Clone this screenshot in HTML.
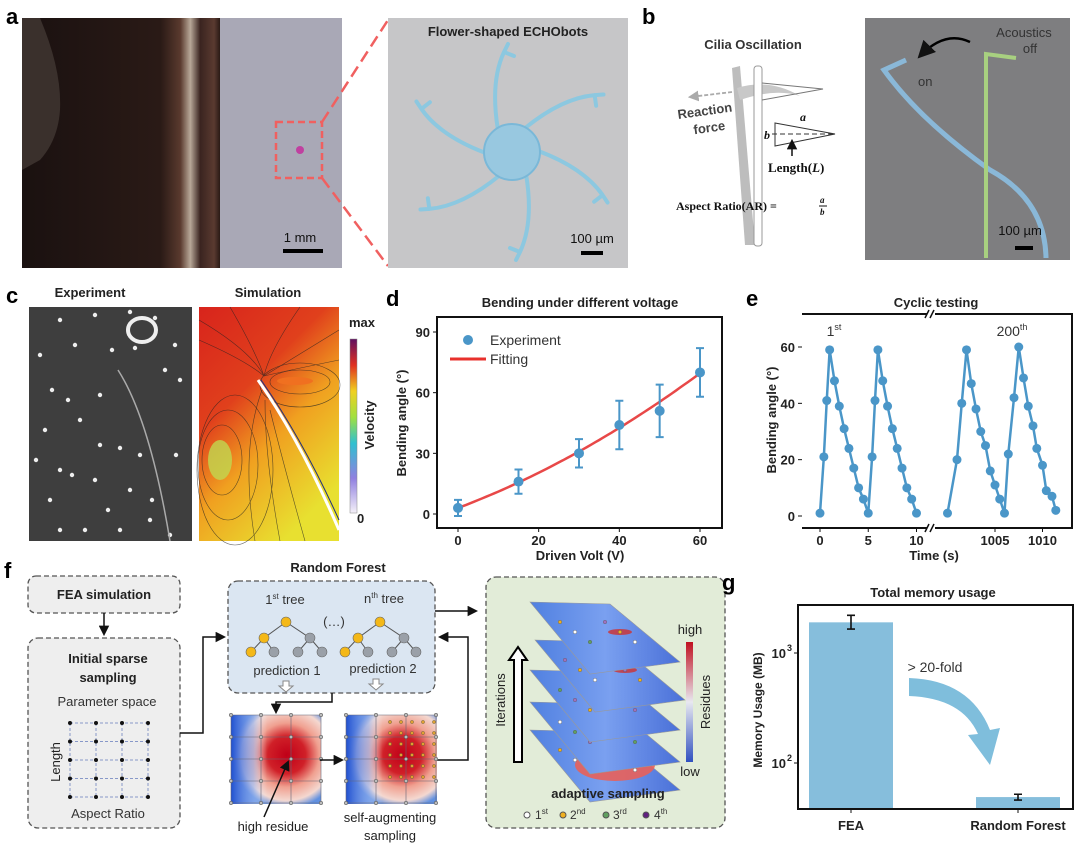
<!DOCTYPE html>
<html><head><meta charset="utf-8">
<style>
html,body{margin:0;padding:0;background:#fff;}
svg{display:block;font-family:"Liberation Sans",Arial,sans-serif;}
.lbl{font-weight:bold;font-size:22px;fill:#000;}
.ttl{font-weight:bold;font-size:13px;fill:#222;}
.tk{font-weight:bold;font-size:13px;fill:#222;}
.ax{font-weight:bold;font-size:13px;fill:#222;}
</style></head>
<body>
<svg id="fig" width="1080" height="847" viewBox="0 0 1080 847" xmlns="http://www.w3.org/2000/svg">
<defs>
<linearGradient id="coin" x1="0" x2="1" y1="0" y2="0">
<stop offset="0" stop-color="#1a1110"/><stop offset="0.7" stop-color="#2a1a16"/><stop offset="0.8" stop-color="#5a3a2e"/><stop offset="0.85" stop-color="#b8a898"/><stop offset="0.9" stop-color="#3a2420"/><stop offset="0.97" stop-color="#5a3a30"/><stop offset="1" stop-color="#2a1a16"/>
</linearGradient>
<linearGradient id="simg" x1="0" y1="0" x2="0.6" y2="1">
<stop offset="0" stop-color="#d8241c"/><stop offset="0.4" stop-color="#e0401c"/><stop offset="0.65" stop-color="#f0a020"/><stop offset="1" stop-color="#e8e030"/>
</linearGradient>
<linearGradient id="velbar" x1="0" y1="1" x2="0" y2="0">
<stop offset="0" stop-color="#f4f0f8"/><stop offset="0.2" stop-color="#9080e0"/><stop offset="0.4" stop-color="#30c0d0"/><stop offset="0.55" stop-color="#a0e040"/><stop offset="0.7" stop-color="#f0d020"/><stop offset="0.85" stop-color="#e03020"/><stop offset="1" stop-color="#601060"/>
</linearGradient>
<linearGradient id="resbar" x1="0" y1="1" x2="0" y2="0">
<stop offset="0" stop-color="#3050c0"/><stop offset="0.5" stop-color="#e8e8f0"/><stop offset="1" stop-color="#c01020"/>
</linearGradient>
<radialGradient id="heat1" cx="0.62" cy="0.45" r="0.6">
<stop offset="0" stop-color="#c00018"/><stop offset="0.35" stop-color="#d02028"/><stop offset="0.6" stop-color="#f0a090"/><stop offset="0.85" stop-color="#f4d8d0"/><stop offset="1" stop-color="#6090e0"/>
</radialGradient>
<linearGradient id="heatL" x1="0" x2="1"><stop offset="0" stop-color="#2050d0"/><stop offset="0.25" stop-color="#90b0f0" stop-opacity="0.6"/><stop offset="0.4" stop-color="#fff" stop-opacity="0"/></linearGradient>
<linearGradient id="layer" x1="0" x2="1"><stop offset="0" stop-color="#5080e0"/><stop offset="0.5" stop-color="#7aa0f0"/><stop offset="1" stop-color="#4a70d8"/></linearGradient>
<marker id="arr" viewBox="0 0 10 10" refX="8" refY="5" markerWidth="7" markerHeight="7" orient="auto"><path d="M0,0 L10,5 L0,10 z" fill="#111"/></marker>
<marker id="arrg" viewBox="0 0 10 10" refX="8" refY="5" markerWidth="6" markerHeight="6" orient="auto"><path d="M0,0 L10,5 L0,10 z" fill="#aaa"/></marker>
</defs>

<!-- Panel a -->
<g>
<text class="lbl" x="6" y="24">a</text>
<rect x="22" y="18" width="320" height="250" fill="#a9a8b6"/>
<rect x="22" y="18" width="198" height="250" fill="url(#coin)"/>
<path d="M22,18 L40,18 Q62,70 60,110 Q58,140 40,160 L22,170 Z" fill="#3a302c"/>
<rect x="276" y="122" width="46" height="56" fill="none" stroke="#f06060" stroke-width="2.5" stroke-dasharray="7,4"/>
<circle cx="300" cy="150" r="4" fill="#c040a0"/>
<text x="300" y="242" font-size="13" text-anchor="middle" fill="#111">1 mm</text>
<rect x="283" y="249" width="40" height="4" fill="#000"/>
<line x1="322" y1="122" x2="388" y2="20" stroke="#f06060" stroke-width="2.5" stroke-dasharray="12,6"/>
<line x1="322" y1="178" x2="388" y2="266" stroke="#f06060" stroke-width="2.5" stroke-dasharray="12,6"/>
<rect x="388" y="18" width="240" height="250" fill="#c6c6c8"/>
<text x="508" y="36" font-size="13" font-weight="bold" text-anchor="middle" fill="#222">Flower-shaped ECHObots</text>
<g transform="translate(512,152)" fill="none" stroke="#8cc8e0" stroke-width="4" stroke-linecap="round">
<path d="M-14,-22 Q-22,-70 -8,-100 L-4,-108 M-8,-100 L2,-96"/>
<path transform="rotate(60)" d="M-14,-22 Q-22,-70 -8,-100 L-4,-108 M-8,-100 L2,-96"/>
<path transform="rotate(120)" d="M-14,-22 Q-22,-70 -8,-100 L-4,-108 M-8,-100 L2,-96"/>
<path transform="rotate(180)" d="M-14,-22 Q-22,-70 -8,-100 L-4,-108 M-8,-100 L2,-96"/>
<path transform="rotate(240)" d="M-14,-22 Q-22,-70 -8,-100 L-4,-108 M-8,-100 L2,-96"/>
<path transform="rotate(300)" d="M-14,-22 Q-22,-70 -8,-100 L-4,-108 M-8,-100 L2,-96"/>
<circle r="28" fill="#98c8e0" stroke="#7ab8d8" stroke-width="2"/>
</g>
<text x="592" y="243" font-size="13" text-anchor="middle" fill="#111">100 µm</text>
<rect x="581" y="251" width="22" height="4" fill="#000"/>
</g>

<!-- Panel b -->
<g>
<text class="lbl" x="642" y="24">b</text>
<text x="753" y="49" font-size="13" font-weight="bold" text-anchor="middle" fill="#333">Cilia Oscillation</text>
<path d="M732,68 L740,66 L755,245 L745,245 Z" fill="#bdbdbd"/>
<path d="M737,88 Q770,78 800,96 Q775,88 740,100 Z" fill="#c8c8c8"/>
<rect x="754" y="66" width="8" height="180" rx="3" fill="#fff" stroke="#999"/>
<path d="M762,83 L823,89 L762,100" fill="none" stroke="#777"/>
<line x1="732" y1="92" x2="690" y2="97" stroke="#aaa" stroke-width="1.8" stroke-dasharray="4,2" marker-end="url(#arrg)"/>
<text x="678" y="116" font-size="13" font-weight="bold" fill="#444" transform="rotate(-8 700 116)">Reaction</text>
<text x="694" y="132" font-size="13" font-weight="bold" fill="#444" transform="rotate(-8 710 132)">force</text>
<path d="M775,123 L835,134 L775,146 Z" fill="none" stroke="#333"/>
<line x1="772" y1="134" x2="835" y2="134" stroke="#333" stroke-dasharray="5,3"/>
<text x="800" y="121" font-size="12" font-style="italic" font-weight="bold" font-family="Liberation Serif,serif" fill="#111">a</text>
<text x="764" y="139" font-size="12" font-style="italic" font-weight="bold" font-family="Liberation Serif,serif" fill="#111">b</text>
<line x1="792" y1="156" x2="792" y2="141" stroke="#111" stroke-width="1.5" marker-end="url(#arr)"/>
<text x="768" y="172" font-size="13" font-weight="bold" font-family="Liberation Serif,serif" fill="#111">Length(<tspan font-style="italic">L</tspan>)</text>
<text x="676" y="210" font-size="12" font-weight="bold" font-family="Liberation Serif,serif" fill="#111">Aspect Ratio(AR) =</text>
<text x="820" y="203" font-size="9" font-style="italic" font-weight="bold" font-family="Liberation Serif,serif" fill="#111">a</text>
<line x1="819" y1="206" x2="827" y2="206" stroke="#111"/>
<text x="820" y="215" font-size="9" font-style="italic" font-weight="bold" font-family="Liberation Serif,serif" fill="#111">b</text>
<rect x="865" y="18" width="205" height="242" fill="#7e7e80"/>
<path d="M1046,258 Q1045,200 990,170 Q920,120 884,70 L906,60" fill="none" stroke="#8ab8d8" stroke-width="5"/>
<path d="M986,258 L986,54 L1016,58" fill="none" stroke="#a8d080" stroke-width="4"/>
<path d="M970,42 Q945,30 920,56" fill="none" stroke="#000" stroke-width="2.5" marker-end="url(#arr)"/>
<text x="1024" y="37" font-size="13" text-anchor="middle" fill="#333">Acoustics</text>
<text x="1030" y="53" font-size="13" text-anchor="middle" fill="#333">off</text>
<text x="918" y="86" font-size="13" fill="#333">on</text>
<text x="1020" y="235" font-size="13" text-anchor="middle" fill="#111">100 µm</text>
<rect x="1015" y="246" width="18" height="4" fill="#000"/>
</g>

<!-- Panel c -->
<g>
<text class="lbl" x="6" y="303">c</text>
<text x="90" y="297" font-size="13" font-weight="bold" text-anchor="middle" fill="#222">Experiment</text>
<text x="268" y="297" font-size="13" font-weight="bold" text-anchor="middle" fill="#222">Simulation</text>
<rect x="29" y="307" width="163" height="234" fill="#3e3e3e"/>
<g id="dots" fill="#eee"></g>
<path d="M118,370 Q150,420 170,541" fill="none" stroke="#aaa" stroke-width="1.5"/>
<ellipse cx="142" cy="330" rx="14" ry="12" fill="none" stroke="#eee" stroke-width="4"/>
<rect x="199" y="307" width="140" height="234" fill="url(#simg)"/>
<ellipse cx="220" cy="460" rx="12" ry="20" fill="#c0d850" opacity="0.8"/>
<ellipse cx="295" cy="381" rx="18" ry="4" fill="#f07020"/>
<g fill="none" stroke="#222" stroke-width="0.6" opacity="0.7">
<path d="M199,320 Q250,350 264,376"/><path d="M199,340 Q245,360 264,376"/><path d="M230,307 Q255,350 264,376"/>
<path d="M300,307 Q270,350 264,376"/><path d="M339,330 Q290,360 264,376"/><path d="M339,360 Q290,370 264,376"/>
<ellipse cx="300" cy="382" rx="30" ry="12"/><ellipse cx="300" cy="385" rx="40" ry="22"/>
<ellipse cx="222" cy="460" rx="20" ry="35"/><ellipse cx="228" cy="465" rx="30" ry="55"/><ellipse cx="235" cy="470" rx="38" ry="75"/>
<path d="M255,541 Q240,450 262,390"/><path d="M280,541 Q265,460 265,400"/><path d="M305,541 Q285,470 270,410"/>
</g>
<path d="M258,380 Q300,440 339,530" fill="none" stroke="#fff" stroke-width="3"/>
<path d="M261,380 Q303,440 339,520" fill="none" stroke="#203080" stroke-width="1"/>
<rect x="350" y="339" width="7" height="174" fill="url(#velbar)" stroke="#888" stroke-width="0.5"/>
<text x="349" y="327" font-size="13" font-weight="bold" fill="#222">max</text>
<text x="357" y="523" font-size="13" font-weight="bold" fill="#222">0</text>
<text font-size="13" font-weight="bold" fill="#222" text-anchor="middle" transform="translate(374,425) rotate(-90)">Velocity</text>
</g>

<!-- Panel d -->
<g id="pd">
<text class="lbl" x="386" y="306">d</text>
<text class="ttl" x="580" y="307" text-anchor="middle">Bending under different voltage</text>
<rect x="437" y="317" width="285" height="211" fill="none" stroke="#111" stroke-width="2"/>
<text class="ax" x="580" y="560" text-anchor="middle">Driven Volt (V)</text>
<text class="ax" text-anchor="middle" transform="translate(406,423) rotate(-90)">Bending angle (°)</text>
<circle cx="468" cy="340" r="5" fill="#4a96c8"/>
<text x="490" y="345" font-size="14" fill="#333">Experiment</text>
<line x1="450" y1="359" x2="486" y2="359" stroke="#e8302c" stroke-width="3"/>
<text x="490" y="364" font-size="14" fill="#333">Fitting</text>
</g>

<!-- Panel e -->
<g id="pe">
<text class="lbl" x="746" y="306">e</text>
<text class="ttl" x="936" y="307" text-anchor="middle">Cyclic testing</text>
<text class="ax" x="934" y="560" text-anchor="middle">Time (s)</text>
<text class="ax" text-anchor="middle" transform="translate(776,420) rotate(-90)">Bending angle (°)</text>
<text x="834" y="336" font-size="14" fill="#333" text-anchor="middle">1<tspan font-size="9" dy="-6">st</tspan></text>
<text x="1012" y="336" font-size="14" fill="#333" text-anchor="middle">200<tspan font-size="9" dy="-6">th</tspan></text>
</g>

<!-- Panel f -->
<g>
<text class="lbl" x="4" y="578">f</text>
<rect x="28" y="576" width="152" height="37" rx="8" fill="#eeeeee" stroke="#555" stroke-dasharray="5,3" stroke-width="1.3"/>
<text x="104" y="599" font-size="13" font-weight="bold" text-anchor="middle" fill="#222">FEA simulation</text>
<line x1="104" y1="613" x2="104" y2="634" stroke="#111" stroke-width="1.5" marker-end="url(#arr)"/>
<rect x="28" y="638" width="152" height="190" rx="10" fill="#eeeeee" stroke="#555" stroke-dasharray="5,3" stroke-width="1.3"/>
<text x="108" y="663" font-size="13" font-weight="bold" text-anchor="middle" fill="#222">Initial sparse</text>
<text x="108" y="682" font-size="13" font-weight="bold" text-anchor="middle" fill="#222">sampling</text>
<text x="107" y="706" font-size="13" text-anchor="middle" fill="#333">Parameter space</text>
<g id="grid1"></g>
<text font-size="13" text-anchor="middle" fill="#222" transform="translate(60,762) rotate(-90)">Length</text>
<text x="108" y="818" font-size="13" text-anchor="middle" fill="#333">Aspect Ratio</text>
<path d="M180,733 L203,733 L203,637 L224,637" fill="none" stroke="#111" stroke-width="1.5" marker-end="url(#arr)"/>
<text x="338" y="572" font-size="13" font-weight="bold" text-anchor="middle" fill="#222">Random Forest</text>
<rect x="228" y="581" width="207" height="112" rx="10" fill="#dbe6f2" stroke="#555" stroke-dasharray="5,3" stroke-width="1.3"/>
<text x="285" y="604" font-size="13" text-anchor="middle" fill="#333">1<tspan font-size="8" dy="-5">st</tspan><tspan dy="5"> tree</tspan></text>
<text x="384" y="603" font-size="13" text-anchor="middle" fill="#333">n<tspan font-size="8" dy="-5">th</tspan><tspan dy="5"> tree</tspan></text>
<text x="334" y="626" font-size="13" text-anchor="middle" fill="#333">(…)</text>
<g id="trees"></g>
<text x="287" y="675" font-size="13" text-anchor="middle" fill="#333">prediction 1</text>
<text x="383" y="673" font-size="13" text-anchor="middle" fill="#333">prediction 2</text>
<path d="M283,681 h6 v5 h4 l-7,6 l-7,-6 h4 z" fill="#fff" stroke="#888"/>
<path d="M373,679 h6 v5 h4 l-7,6 l-7,-6 h4 z" fill="#fff" stroke="#888"/>
<path d="M332,693 L332,702 L276,702 L276,712" fill="none" stroke="#111" stroke-width="1.5" marker-end="url(#arr)"/>
<line x1="435" y1="611" x2="476" y2="611" stroke="#111" stroke-width="1.5" marker-end="url(#arr)"/>
<path d="M437,760 L468,760 L468,637 L440,637" fill="none" stroke="#111" stroke-width="1.5" marker-end="url(#arr)"/>
<rect x="231" y="715" width="90" height="89" fill="url(#heat1)"/>
<rect x="231" y="715" width="90" height="89" fill="url(#heatL)"/>
<rect x="346" y="715" width="91" height="89" fill="url(#heat1)"/>
<rect x="346" y="715" width="91" height="89" fill="url(#heatL)"/>
<g id="grid2"></g>
<line x1="320" y1="760" x2="342" y2="760" stroke="#111" stroke-width="1.5" marker-end="url(#arr)"/>
<line x1="264" y1="817" x2="288" y2="762" stroke="#111" stroke-width="1.5" marker-end="url(#arr)"/>
<text x="273" y="831" font-size="13" text-anchor="middle" fill="#222">high residue</text>
<text x="390" y="822" font-size="13" text-anchor="middle" fill="#222">self-augmenting</text>
<text x="390" y="840" font-size="13" text-anchor="middle" fill="#222">sampling</text>
<rect x="486" y="577" width="239" height="251" rx="10" fill="#e2ecd8" stroke="#555" stroke-dasharray="5,3" stroke-width="1.3"/>
<g id="layers"></g>
<path d="M514,762 L514,660 L509,660 L518,647 L527,660 L522,660 L522,762 Z" fill="#fff" stroke="#000" stroke-width="2"/>
<text font-size="13" text-anchor="middle" fill="#222" transform="translate(505,700) rotate(-90)">Iterations</text>
<rect x="686" y="642" width="7" height="120" fill="url(#resbar)"/>
<text x="690" y="634" font-size="13" text-anchor="middle" fill="#222">high</text>
<text x="690" y="776" font-size="13" text-anchor="middle" fill="#222">low</text>
<text font-size="13" text-anchor="middle" fill="#222" transform="translate(710,702) rotate(-90)">Residues</text>
<text x="608" y="798" font-size="13" font-weight="bold" text-anchor="middle" fill="#222">adaptive sampling</text>
<g font-size="12" fill="#333">
<circle cx="527" cy="815" r="3" fill="#fff" stroke="#555"/><text x="535" y="819">1<tspan font-size="8" dy="-5">st</tspan></text>
<circle cx="563" cy="815" r="3" fill="#f0b020" stroke="#555"/><text x="570" y="819">2<tspan font-size="8" dy="-5">nd</tspan></text>
<circle cx="606" cy="815" r="3" fill="#60a060" stroke="#555"/><text x="613" y="819">3<tspan font-size="8" dy="-5">rd</tspan></text>
<circle cx="646" cy="815" r="3" fill="#602080" stroke="#555"/><text x="654" y="819">4<tspan font-size="8" dy="-5">th</tspan></text>
</g>
</g>

<!-- Panel g -->
<g id="pg">
<text class="lbl" x="722" y="590">g</text>
<text class="ttl" x="933" y="597" text-anchor="middle">Total memory usage</text>
<text font-size="12" font-weight="bold" fill="#222" text-anchor="middle" transform="translate(762,710) rotate(-90)">Memory Usage (MB)</text>
<text x="935" y="672" font-size="14" fill="#333" text-anchor="middle">&gt; 20-fold</text>
<path d="M909,678 Q970,680 990,730 L1000,728 L990,765 L968,735 L978,734 Q962,698 909,696 Z" fill="#7fbedc"/>
</g>
</svg>

<script>
// ===== Panel d data =====
const dVolts = [0, 15, 30, 40, 50, 60];
const dAngles = [3, 16, 30, 44, 51, 70];
const dErrors = [4, 6, 7, 12, 13, 12];
const dFitCoef = [3, 0.75, 0.006];
const dXTicks = [0, 20, 40, 60];
const dYTicks = [0, 30, 60, 90];

// ===== Panel e data =====
const eTimes = [0,0.4,0.7,1,1.5,2,2.5,3,3.5,4,4.5,5, 5.4,5.7,6,6.5,7,7.5,8,8.5,9,9.5,10];
const eAngles = [1,21,41,59,48,39,31,24,17,10,6,1, 21,41,59,48,39,31,24,17,10,6,1];
const eTimes2 = [1000,1001,1001.5,1002,1002.5,1003,1003.5,1004,1004.5,1005,1005.5,1006, 1006.4,1007,1007.5,1008,1008.5,1009,1009.4,1010,1010.4,1011,1011.4];
const eAngles2 = [1,20,40,59,47,38,30,25,16,11,6,1, 22,42,60,49,39,32,24,18,9,7,2];
const eXTicks = [0, 5, 10, 1005, 1010];
const eYTicks = [0, 20, 40, 60];

// ===== Panel g data =====
const gCategories = ["FEA", "Random Forest"];
const gValues = [1900, 49];
const gErrLow = [1650, 46];
const gErrHigh = [2200, 52];
const gYTicks = [100, 1000];
const gYTickLabels = ["10", "10"];
const gYTickExp = ["2", "3"];

const NS = "http://www.w3.org/2000/svg";
function mk(tag, attrs, parent){ const e=document.createElementNS(NS,tag); for(const k in attrs) e.setAttribute(k,attrs[k]); parent.appendChild(e); return e; }

// Panel d
(function(){
  const g = document.getElementById('pd');
  const x = v => 458 + v*(242/60);
  const y = v => 514 - v*(182/90);
  dXTicks.forEach(t=>{
    const l=mk('line',{x1:x(t),x2:x(t),y1:528,y2:532,stroke:'#111'},g);
    
    
    const tx=mk('text',{x:x(t),y:545,'text-anchor':'middle',class:'tk'},g); tx.textContent=t;
    
    
  });
  dYTicks.forEach(t=>{
    mk('line',{x1:433,x2:437,y1:y(t),y2:y(t),stroke:'#111'},g);
    const tx=mk('text',{x:430,y:y(t)+5,'text-anchor':'end',class:'tk'},g); tx.textContent=t;
    
    
  });
  let d='';
  for(let v=0; v<=60; v+=1){ const a=dFitCoef[0]+dFitCoef[1]*v+dFitCoef[2]*v*v; d+=(v?'L':'M')+x(v).toFixed(1)+','+y(a).toFixed(1); }
  const fit=mk('path',{d:d,fill:'none',stroke:'#e84848','stroke-width':2.5},g);
  
  
  dVolts.forEach((v,i)=>{
    const eb=mk('path',{d:`M${x(v)},${y(dAngles[i]-dErrors[i])}V${y(dAngles[i]+dErrors[i])}M${x(v)-4},${y(dAngles[i]-dErrors[i])}h8M${x(v)-4},${y(dAngles[i]+dErrors[i])}h8`,stroke:'#4a96c8','stroke-width':2,fill:'none'},g);
    
    
    const c=mk('circle',{cx:x(v),cy:y(dAngles[i]),r:5,fill:'#4a96c8'},g);
    
    
  });
})();

// Panel e
(function(){
  const g = document.getElementById('pe');
  const x = t => t<500 ? 820 + t*9.65 : 995 + (t-1005)*9.5;
  const y = v => 516 - v*(169/60);
  mk('path',{d:'M802,314 H927 M935,314 H1072 V528 H935 M927,528 H802 Z',fill:'none',stroke:'#111','stroke-width':2},g);
  mk('path',{d:'M925,318 l4,-8 M930,318 l4,-8 M925,532 l4,-8 M930,532 l4,-8',stroke:'#111','stroke-width':1.5},g);
  eXTicks.forEach(t=>{
    mk('line',{x1:x(t),x2:x(t),y1:528,y2:532,stroke:'#111'},g);
    const tx=mk('text',{x:x(t),y:545,'text-anchor':'middle',class:'tk'},g); tx.textContent=t;
    
    
  });
  eYTicks.forEach(t=>{
    mk('line',{x1:798,x2:802,y1:y(t),y2:y(t),stroke:'#111'},g);
    const tx=mk('text',{x:795,y:y(t)+5,'text-anchor':'end',class:'tk'},g); tx.textContent=t;
    
    
  });
  [[eTimes,eAngles],[eTimes2,eAngles2]].forEach(([ts,vs])=>{
    const p=mk('polyline',{points:ts.map((t,i)=>x(t)+','+y(vs[i])).join(' '),fill:'none',stroke:'#4a96c8','stroke-width':2.5},g);
    
    
    ts.forEach((t,i)=>{
      const c=mk('circle',{cx:x(t),cy:y(vs[i]),r:4.5,fill:'#4a96c8'},g);
      
      
    });
  });
})();

// Panel g
(function(){
  const g = document.getElementById('pg');
  const y = v => 763 - (Math.log10(v)-2)*110;
  const xc = [851, 1018];
  gValues.forEach((v,i)=>{
    const b=mk('rect',{x:xc[i]-42,y:y(v),width:84,height:809-y(v),fill:'#86bedc'},g);
    
    
    mk('path',{d:`M${xc[i]},${y(gErrLow[i])}V${y(gErrHigh[i])}M${xc[i]-4},${y(gErrLow[i])}h8M${xc[i]-4},${y(gErrHigh[i])}h8`,stroke:'#111','stroke-width':1.6,fill:'none'},g);
    mk('line',{x1:xc[i],x2:xc[i],y1:809,y2:813,stroke:'#111'},g);
    const tx=mk('text',{x:xc[i],y:830,'text-anchor':'middle',class:'tk'},g); tx.textContent=gCategories[i];
    
    
  });
  mk('rect',{x:798,y:605,width:275,height:204,fill:'none',stroke:'#111','stroke-width':2},g);
  gYTicks.forEach((t,i)=>{
    mk('line',{x1:794,x2:798,y1:y(t),y2:y(t),stroke:'#111'},g);
    const tx=mk('text',{x:786,y:y(t)+5,'text-anchor':'end',class:'tk'},g);
    tx.textContent=gYTickLabels[i];
    
    
    const ex=mk('text',{x:787,y:y(t)-2,'font-size':9,'font-weight':'bold',fill:'#222'},g); ex.textContent=gYTickExp[i];
  });
})();

// decorative: dots in experiment, grids, trees, layers
(function(){
  const dots=document.getElementById('dots');
  const pts=[[60,320],[95,315],[130,312],[155,318],[40,355],[75,345],[52,390],[68,400],[45,430],[80,420],[100,395],[120,448],[140,455],[36,460],[50,500],[72,475],[95,480],[108,510],[130,490],[152,500],[176,455],[180,380],[175,345],[165,370],[60,530],[85,530],[120,530],[150,520],[170,535],[112,350],[135,348],[100,445],[60,470]];
  pts.forEach(p=>mk('circle',{cx:p[0],cy:p[1],r:2.2},dots));
  const g1=document.getElementById('grid1');
  for(let i=0;i<4;i++){ mk('line',{x1:70+i*26,x2:70+i*26,y1:723,y2:797,stroke:'#8898c8','stroke-dasharray':'3,2'},g1); }
  for(let j=0;j<5;j++){ mk('line',{x1:70,x2:148,y1:723+j*18.5,y2:723+j*18.5,stroke:'#8898c8','stroke-dasharray':'3,2'},g1); }
  for(let i=0;i<4;i++)for(let j=0;j<5;j++) mk('circle',{cx:70+i*26,cy:723+j*18.5,r:2,fill:'#111'},g1);
  const g2=document.getElementById('grid2');
  [231,346].forEach((x0,k)=>{
    for(let i=0;i<4;i++) mk('line',{x1:x0+i*30,x2:x0+i*30,y1:715,y2:804,stroke:'#667','stroke-width':0.6},g2);
    for(let j=0;j<5;j++) mk('line',{x1:x0,x2:x0+90,y1:715+j*22,y2:715+j*22,stroke:'#667','stroke-width':0.6},g2);
    for(let i=0;i<4;i++)for(let j=0;j<5;j++) mk('circle',{cx:x0+i*30,cy:715+j*22,r:1.8,fill:'#bbb',stroke:'#444','stroke-width':0.5},g2);
  });
  for(let i=0;i<5;i++)for(let j=0;j<6;j++) mk('circle',{cx:390+i*11,cy:722+j*11,r:1.6,fill:'#e0a030',stroke:'#553','stroke-width':0.4},g2);
  const tr=document.getElementById('trees');
  [[286,0],[380,0]].forEach(([cx])=>{
    const nodes=[[cx,622,'y'],[cx-22,638,'y'],[cx+24,638,'g'],[cx-35,652,'y'],[cx-12,652,'g'],[cx+12,652,'g'],[cx+36,652,'g']];
    [[0,1],[0,2],[1,3],[1,4],[2,5],[2,6]].forEach(([a,b])=>mk('line',{x1:nodes[a][0],y1:nodes[a][1],x2:nodes[b][0],y2:nodes[b][1],stroke:'#555'},tr));
    nodes.forEach(n=>mk('circle',{cx:n[0],cy:n[1],r:5,fill:n[2]==='y'?'#f4b818':'#9aa0a8',stroke:'#666','stroke-width':0.6},tr));
  });
  const L=document.getElementById('layers');
  const lay=[[530,740],[530,712],[530,680],[535,650],[530,612]];
  lay.forEach(([x0,y0],k)=>{
    mk('polygon',{points:`${x0},${y0-10} ${x0+80},${y0-8} ${x0+150},${y0+50} ${x0+60},${y0+62}`,fill:'url(#layer)',stroke:'#999','stroke-width':0.6},L);
    if(k===0){ mk('ellipse',{cx:x0+85,cy:y0+25,rx:40,ry:16,fill:'#e8605a',opacity:0.9},L); mk('ellipse',{cx:x0+80,cy:y0+20,rx:22,ry:9,fill:'#c8102a'},L); }
    else { mk('ellipse',{cx:x0+90,cy:y0+20,rx:12,ry:3,fill:'#d03030',opacity:0.8},L); }
    for(let i=0;i<6;i++){ mk('circle',{cx:x0+30+i*15,cy:y0+10+(i%3)*10,r:1.8,fill:['#f0b020','#fff','#60a060','#a070c0'][(i+k)%4],stroke:'#555','stroke-width':0.4},L); }
  });
})();
</script>
</body></html>
